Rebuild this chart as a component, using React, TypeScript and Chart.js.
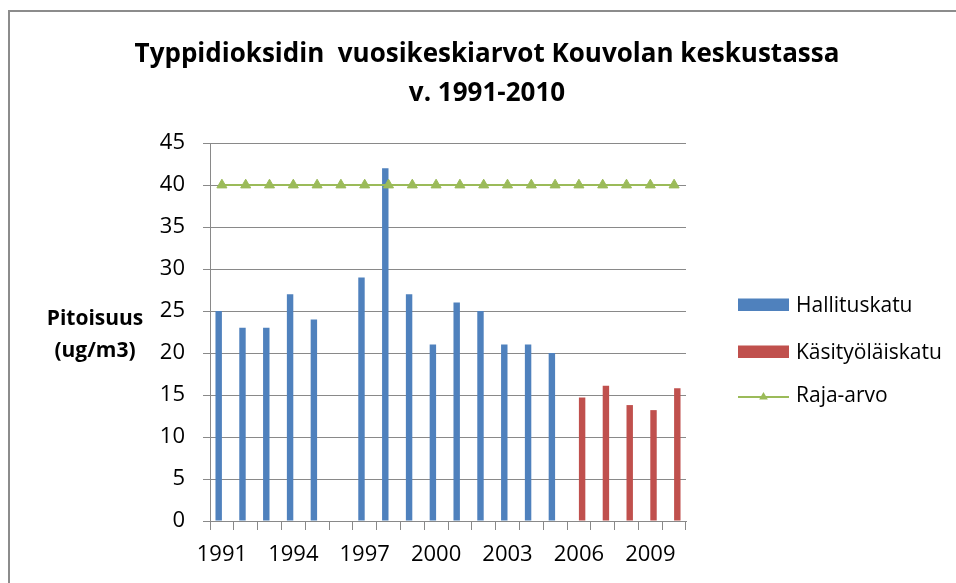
import React, { useEffect, useRef } from 'react';
import { Chart, registerables } from 'chart.js';

Chart.register(...registerables);

// ---- Data ----
const years = [
  '1991', '1992', '1993', '1994', '1995', '1996', '1997', '1998', '1999', '2000',
  '2001', '2002', '2003', '2004', '2005', '2006', '2007', '2008', '2009', '2010',
];
const hallituskatu = [25, 23, 23, 27, 24, null, 29, 42, 27, 21, 26, 25, 21, 21, 20, null, null, null, null, null];
const kasityolaiskatu = [null, null, null, null, null, null, null, null, null, null, null, null, null, null, null, 14.7, 16.1, 13.8, 13.2, 15.8];
const rajaArvo = [40, 40, 40, 40, 40, 40, 40, 40, 40, 40, 40, 40, 40, 40, 40, 40, 40, 40, 40, 40];
const seriesNames = ['Hallituskatu', 'Käsityöläiskatu', 'Raja-arvo'];
const titleLines = ['Typpidioksidin  vuosikeskiarvot Kouvolan keskustassa', 'v. 1991-2010'];
const yAxisTitleLines = ['Pitoisuus', '(ug/m3)'];
const yMin = 0;
const yMax = 45;
const yStep = 5;
const xLabelEvery = 3;

const BLUE = '#4F81BD';
const RED = '#C0504D';
const GREEN = '#9BBB59';
const GRID = '#898989';
const FONT = "'Open Sans', 'DejaVu Sans', sans-serif";

const framePlugin = {
  id: 'frame',
  beforeDraw(chart: any) {
    const ctx = chart.ctx;
    ctx.save();
    ctx.fillStyle = '#ffffff';
    ctx.fillRect(0, 0, chart.width, chart.height);
    ctx.fillStyle = '#8c8c8c';
    ctx.fillRect(8, 10, chart.width - 8, 2);
    ctx.fillRect(8, 10, 2, chart.height - 10);
    ctx.restore();
  },
};

const titlePlugin = {
  id: 'customTitle',
  afterDraw(chart: any) {
    const ctx = chart.ctx;
    ctx.save();
    ctx.fillStyle = '#000';
    ctx.font = `bold 26px ${FONT}`;
    ctx.textAlign = 'center';
    ctx.textBaseline = 'alphabetic';
    const cx = 487;
    const baselines = [62, 101];
    titleLines.forEach((t, i) => ctx.fillText(t, cx, baselines[i]));
    ctx.restore();
  },
};

const yTitlePlugin = {
  id: 'yTitle',
  afterDraw(chart: any) {
    const ctx = chart.ctx;
    ctx.save();
    ctx.fillStyle = '#000';
    ctx.font = `bold 21px ${FONT}`;
    ctx.textAlign = 'center';
    ctx.textBaseline = 'alphabetic';
    const cx = 95;
    const baselines = [325, 357];
    yAxisTitleLines.forEach((t, i) => ctx.fillText(t, cx, baselines[i]));
    ctx.restore();
  },
};

const legendPlugin = {
  id: 'customLegend',
  afterDraw(chart: any) {
    const ctx = chart.ctx;
    const x0 = chart.chartArea.right + 52;
    const boxW = 51;
    const baselines = [312, 359, 402];
    ctx.save();
    chart.data.datasets.forEach((ds: any, i: number) => {
      const b = baselines[i];
      if (ds.type === 'line') {
        const ly = b - 5;
        ctx.strokeStyle = ds.borderColor;
        ctx.lineWidth = 2;
        ctx.beginPath();
        ctx.moveTo(x0, ly);
        ctx.lineTo(x0 + boxW, ly);
        ctx.stroke();
        const cx = x0 + boxW / 2;
        const r = 5;
        ctx.fillStyle = ds.borderColor;
        ctx.beginPath();
        ctx.moveTo(cx, ly - r);
        ctx.lineTo(cx + r * 0.866, ly + r / 2);
        ctx.lineTo(cx - r * 0.866, ly + r / 2);
        ctx.closePath();
        ctx.fill();
      } else {
        ctx.fillStyle = ds.backgroundColor;
        ctx.fillRect(x0, b - 13.5, boxW, 12.5);
      }
      ctx.fillStyle = '#000';
      ctx.font = `21px ${FONT}`;
      ctx.textAlign = 'left';
      ctx.textBaseline = 'alphabetic';
      ctx.fillText(ds.label, x0 + 58, b);
    });
    ctx.restore();
  },
};

export default function App() {
  const canvasRef = useRef<HTMLCanvasElement | null>(null);

  useEffect(() => {
    const canvas = canvasRef.current;
    if (!canvas) return;
    const chart = new Chart(canvas, {
      type: 'bar',
      data: {
        labels: years,
        datasets: [
          {
            type: 'bar',
            label: seriesNames[0],
            data: hallituskatu as any,
            backgroundColor: BLUE,
            borderWidth: 0,
            categoryPercentage: 0.54,
            barPercentage: 1,
            order: 1,
          },
          {
            type: 'bar',
            label: seriesNames[1],
            data: kasityolaiskatu as any,
            backgroundColor: RED,
            borderWidth: 0,
            categoryPercentage: 0.54,
            barPercentage: 1,
            order: 2,
          },
          {
            type: 'line',
            label: seriesNames[2],
            data: rajaArvo,
            borderColor: GREEN,
            backgroundColor: GREEN,
            borderWidth: 2,
            pointStyle: 'triangle',
            pointRadius: 5.8,
            pointBorderWidth: 1,
            pointBackgroundColor: GREEN,
            pointBorderColor: GREEN,
            fill: false,
            tension: 0,
            order: 0,
          } as any,
        ],
      },
      options: {
        responsive: false,
        animation: false,
        events: [],
        layout: { padding: { left: 0, right: 270, top: 143, bottom: 0 } },
        plugins: {
          legend: { display: false },
          tooltip: { enabled: false },
          title: { display: false },
        },
        scales: {
          x: {
            type: 'category',
            offset: true,
            afterFit: (scale: any) => {
              scale.height = 62;
            },
            grid: {
              offset: true,
              drawOnChartArea: false,
              drawTicks: true,
              tickLength: 9,
              color: GRID,
              lineWidth: 1,
            },
            border: { display: true, color: GRID, width: 1 },
            ticks: {
              autoSkip: false,
              maxRotation: 0,
              minRotation: 0,
              padding: 12,
              color: '#000',
              font: { family: FONT, size: 22 },
              callback: (_v: any, i: number) => (i % xLabelEvery === 0 ? years[i] : ''),
            },
          },
          y: {
            min: yMin,
            max: yMax,
            afterFit: (scale: any) => {
              scale.width = 210;
            },
            grid: {
              drawOnChartArea: true,
              drawTicks: true,
              tickLength: 7,
              color: GRID,
              lineWidth: 1,
            },
            border: { display: true, color: GRID, width: 1 },
            ticks: {
              stepSize: yStep,
              padding: 18,
              color: '#000',
              font: { family: FONT, size: 22 },
            },
          },
        },
      },
      plugins: [framePlugin, titlePlugin, yTitlePlugin, legendPlugin],
    });
    return () => chart.destroy();
  }, []);

  return (
    <div style={{ position: 'fixed', left: 0, top: 0, width: 956, height: 583, overflow: 'hidden', background: '#fff' }}>
      <canvas ref={canvasRef} width={956} height={583} style={{ display: 'block', width: 956, height: 583 }} />
    </div>
  );
}
